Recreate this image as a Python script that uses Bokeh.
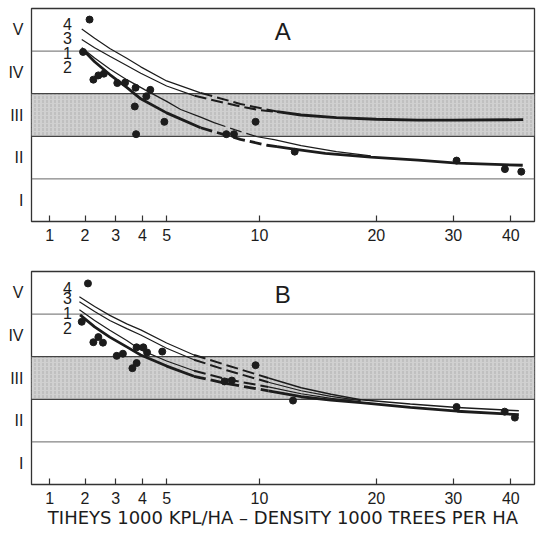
import numpy as np
from bokeh.plotting import figure
from bokeh.layouts import column
from bokeh.models import FixedTicker, CustomJSTickFormatter, Span, BoxAnnotation, Label
from bokeh.embed import file_html
from bokeh.resources import INLINE

# ---------------- data ----------------
density_ticks = [1, 2, 3, 4, 5, 10, 20, 30, 40]
class_names = ["I", "II", "III", "IV", "V"]
class_bounds = [1, 2, 3, 4]
shaded_lo, shaded_hi = 2, 3
density_min, density_max = 0.54, 44.9
curve_names = ["4", "3", "1", "2"]
x_title = "TIHEYS 1000 KPL/HA – DENSITY 1000 TREES PER HA"

# Panel A observations
A_pts_x = [2.14, 1.94, 2.26, 2.42, 2.60, 3.06, 3.34, 3.73, 4.31, 4.15, 3.70, 4.90, 3.75, 7.98, 8.42, 9.75, 12.5, 30.5, 38.85, 42.1]
A_pts_y = [4.74, 3.98, 3.33, 3.43, 3.47, 3.25, 3.26, 3.14, 3.09, 2.94, 2.70, 2.34, 2.05, 2.05, 2.05, 2.34, 1.64, 1.43, 1.23, 1.17]

# Panel A curves (x, y, dashed from, dashed to)
A_c4_x = [1.9, 2.3, 2.8, 3.4, 3.93, 5.0, 6.6, 8.8, 10.1, 11.2, 13.0, 16.0, 20.0, 25.0, 30.0, 42.5]
A_c4_y = [4.52, 4.30, 4.06, 3.83, 3.63, 3.30, 3.02, 2.76, 2.66, 2.58, 2.50, 2.44, 2.40, 2.38, 2.38, 2.39]
A_c4_dash = (6.6, 11.2)
A_c3_x = [1.9, 2.3, 2.8, 3.4, 3.93, 5.0, 6.3, 8.8, 10.1, 11.2]
A_c3_y = [4.27, 4.08, 3.88, 3.66, 3.48, 3.18, 2.95, 2.70, 2.61, 2.57]
A_c3_dash = (6.3, 11.2)
A_c1_x = [1.9, 2.3, 2.8, 3.4, 4.1, 5.0, 5.63, 6.6, 7.3, 8.5, 9.86, 11.0, 13.0, 16.0, 19.4]
A_c1_y = [4.08, 3.84, 3.58, 3.33, 3.09, 2.82, 2.63, 2.45, 2.32, 2.15, 1.99, 1.92, 1.78, 1.64, 1.54]
A_c1_dash = (7.3, 9.86)
A_c2_x = [1.9, 2.3, 2.8, 3.4, 3.93, 5.0, 6.6, 8.8, 10.5, 11.2, 12.44, 15.0, 19.4, 25.0, 30.6, 42.4]
A_c2_y = [4.06, 3.75, 3.45, 3.15, 2.88, 2.55, 2.20, 1.93, 1.79, 1.76, 1.70, 1.60, 1.51, 1.44, 1.37, 1.32]
A_c2_dash = (6.6, 11.2)
A_label_y = [4.64, 4.30, 3.95, 3.62]

# Panel B observations
B_pts_x = [2.09, 1.90, 2.26, 2.42, 2.57, 3.04, 3.26, 3.77, 4.03, 4.18, 4.81, 3.77, 3.61, 9.75, 7.88, 8.30, 12.37, 30.5, 38.8, 40.8]
B_pts_y = [4.72, 3.82, 3.34, 3.46, 3.33, 3.02, 3.07, 3.22, 3.22, 3.10, 3.12, 2.85, 2.73, 2.80, 2.42, 2.44, 1.97, 1.82, 1.71, 1.57]

B_c4_x = [1.83, 2.3, 2.8, 3.4, 3.93, 5.0, 6.27, 8.0, 10.6, 13.0, 15.5, 18.35, 24.0, 30.6, 41.6]
B_c4_y = [4.41, 4.18, 3.97, 3.77, 3.63, 3.32, 3.04, 2.80, 2.50, 2.27, 2.12, 1.99, 1.89, 1.81, 1.73]
B_c4_dash = (6.27, 10.6)
B_c3_x = [1.83, 2.3, 2.8, 3.4, 3.93, 5.0, 6.27, 8.0, 10.6, 13.0, 15.5, 18.35]
B_c3_y = [4.29, 4.06, 3.85, 3.66, 3.51, 3.20, 2.93, 2.68, 2.40, 2.20, 2.07, 1.97]
B_c3_dash = (6.27, 10.6)
B_c1_x = [1.83, 2.3, 2.8, 3.4, 3.93, 5.0, 6.27, 8.0, 10.6, 13.0, 15.5, 18.35]
B_c1_y = [4.10, 3.85, 3.62, 3.38, 3.16, 2.90, 2.67, 2.47, 2.29, 2.13, 2.02, 1.94]
B_c1_dash = (6.27, 10.6)
B_c2_x = [1.85, 2.3, 2.8, 3.4, 3.93, 5.0, 6.27, 8.0, 10.6, 13.0, 15.5, 18.35, 24.0, 30.6, 41.6]
B_c2_y = [3.98, 3.70, 3.46, 3.23, 3.04, 2.78, 2.54, 2.37, 2.20, 2.06, 1.98, 1.92, 1.81, 1.72, 1.64]
B_c2_dash = (6.27, 10.6)
B_label_y = [4.62, 4.37, 4.02, 3.67]

# ---------------- helpers ----------------
OFFSET = 5.0  # x axis scale: log10(density + 5)


def tx(v):
    return np.log10(np.asarray(v, dtype=float) + OFFSET)


INK = "#1c1c1c"
FONT = "Liberation Sans"
TITLE_FONT = "DejaVu Sans"
THIN, MED, THICK = 1.2, 2.0, 2.8


def make_panel(letter, pts_x, pts_y, curves, label_y, bottom_axis):
    p = figure(
        frame_width=503, frame_height=213,
        x_range=(float(tx(density_min)), float(tx(density_max))),
        y_range=(0, 5),
        output_backend="svg", toolbar_location=None,
        min_border_left=31, min_border_right=2,
        min_border_top=8 if letter == "A" else 12,
        min_border_bottom=38 if letter == "A" else 4,
    )
    p.grid.visible = False
    p.outline_line_color = "#333333"
    p.outline_line_width = 1.3
    p.background_fill_color = "white"
    p.border_fill_color = "white"

    # shaded class band and class boundaries
    p.add_layout(BoxAnnotation(bottom=shaded_lo, top=shaded_hi, fill_color="#d0d0d0", fill_alpha=1.0,
                               hatch_pattern=":", hatch_color="#b0b0b0", hatch_scale=4, hatch_weight=1,
                               line_color=None, level="underlay"))
    for b in class_bounds:
        dark = b in (shaded_lo, shaded_hi)
        p.add_layout(Span(location=b, dimension="width", line_color="#444444" if dark else "#666666",
                          line_width=1.2 if dark else 1.0, level="underlay"))

    # curves
    for (xs, ys, dash, widths) in curves:
        xs = np.asarray(xs, float)
        ys = np.asarray(ys, float)
        b0, b1 = dash
        w_solid, w_dash, w_tail = widths
        m1 = xs <= b0
        md = (xs >= b0) & (xs <= b1)
        mt = xs >= b1
        p.line(tx(xs[m1]), ys[m1], line_color=INK, line_width=w_solid)
        p.line(tx(xs[md]), ys[md], line_color=INK, line_width=w_dash, line_dash="12 5")
        if w_tail and mt.sum() > 1:
            p.line(tx(xs[mt]), ys[mt], line_color=INK, line_width=w_tail)

    # observations
    p.scatter(tx(pts_x), pts_y, size=7, color=INK, line_color=INK)

    # curve labels
    for name, ly in zip(curve_names, label_y):
        p.add_layout(Label(x=float(tx(1.48)), y=ly, text=name, text_font=FONT, text_font_size="16px",
                           text_color=INK, text_align="center", text_baseline="middle"))
    # panel letter
    p.add_layout(Label(x=float(tx(11.6)), y=4.45, text=letter, text_font=FONT, text_font_size="24px",
                       text_color=INK, text_align="center", text_baseline="middle"))

    # axes
    xa = p.xaxis[0]
    xa.ticker = FixedTicker(ticks=[float(v) for v in tx(density_ticks)])
    xa.formatter = CustomJSTickFormatter(code="return String(Math.round(Math.pow(10, tick) - 5));")
    xa.minor_tick_line_color = None
    xa.major_tick_in = 6
    xa.major_tick_out = 0
    xa.major_tick_line_color = "#333333"
    xa.major_tick_line_width = 1.2
    xa.axis_line_color = None
    xa.major_label_text_font = FONT
    xa.major_label_text_font_size = "16px"
    xa.major_label_text_color = INK
    xa.major_label_standoff = 7
    if bottom_axis:
        xa.axis_label = x_title
        xa.axis_label_text_font = TITLE_FONT
        xa.axis_label_text_font_size = "18px"
        xa.axis_label_text_font_style = "normal"
        xa.axis_label_text_color = INK
        xa.axis_label_standoff = 0

    ya = p.yaxis[0]
    ya.ticker = FixedTicker(ticks=[i + 0.5 for i in range(len(class_names))])
    ya.formatter = CustomJSTickFormatter(args=dict(names=class_names),
                                         code="return names[Math.floor(tick)];")
    ya.minor_tick_line_color = None
    ya.major_tick_in = 0
    ya.major_tick_out = 0
    ya.axis_line_color = None
    ya.major_label_text_font = FONT
    ya.major_label_text_font_size = "16px"
    ya.major_label_text_color = INK
    ya.major_label_standoff = 8
    return p


A_curves = [
    (A_c4_x, A_c4_y, A_c4_dash, (THIN, MED, THICK)),
    (A_c3_x, A_c3_y, A_c3_dash, (THIN, MED, None)),
    (A_c1_x, A_c1_y, A_c1_dash, (THIN, THIN, THIN)),
    (A_c2_x, A_c2_y, A_c2_dash, (THICK, THICK, THICK)),
]
B_curves = [
    (B_c4_x, B_c4_y, B_c4_dash, (THIN, MED, 1.5)),
    (B_c3_x, B_c3_y, B_c3_dash, (THIN, MED, THIN)),
    (B_c1_x, B_c1_y, B_c1_dash, (THIN, MED, THIN)),
    (B_c2_x, B_c2_y, B_c2_dash, (THICK, THICK, THICK)),
]

pA = make_panel("A", A_pts_x, A_pts_y, A_curves, A_label_y, False)
pB = make_panel("B", B_pts_x, B_pts_y, B_curves, B_label_y, True)

layout = column(pA, pB, spacing=0)
open("out.html", "w").write(file_html(layout, INLINE))
